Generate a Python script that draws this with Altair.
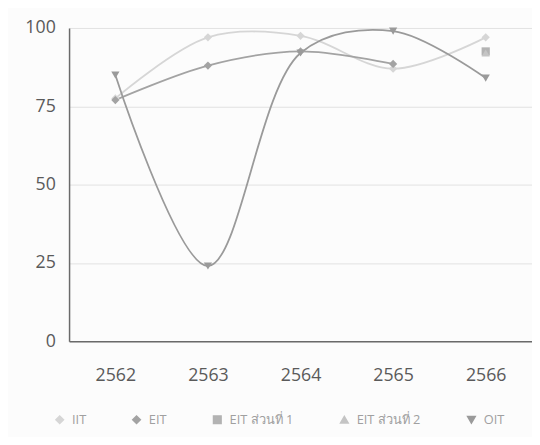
import altair as alt
import pandas as pd

years = ["2562", "2563", "2564", "2565", "2566"]
series_names = ["IIT", "EIT", "EIT ส่วนที่ 1", "EIT ส่วนที่ 2", "OIT"]
iit = [77.5, 97, 97.5, 87, 97]
eit = [77, 88, 92.5, 88.5, None]
eit1 = [None, None, None, None, 92.5]
eit2 = [None, None, None, None, 92]
oit = [85, 24, 92, 99, 84]

colors = ["#d6d6d6", "#a3a3a3", "#b3b3b3", "#c4c4c4", "#9a9a9a"]
shapes = ["diamond", "diamond", "square", "triangle-up", "triangle-down"]

rows = []
for name, vals in zip(series_names, [iit, eit, eit1, eit2, oit]):
    for y, v in zip(years, vals):
        if v is not None:
            rows.append({"series": name, "year": y, "value": v,
                         "order": series_names.index(name)})
df = pd.DataFrame(rows)

font = "Open Sans"

x = alt.X("year:N", title=None, sort=years,
          scale=alt.Scale(paddingInner=0, paddingOuter=0.5),
          axis=alt.Axis(labelAngle=0, labelFontSize=18, labelColor="#5a5a5a",
                        labelFont=font, ticks=False, labelPadding=26,
                        domainColor="#6a6a6a", domainWidth=1.5, grid=False))
y = alt.Y("value:Q", title=None,
          scale=alt.Scale(domain=[0, 100]),
          axis=alt.Axis(values=[0, 25, 50, 75, 100], labelFontSize=18,
                        labelColor="#5a5a5a", labelFont=font, ticks=False,
                        labelPadding=14, domainColor="#6a6a6a", domainWidth=1.5,
                        gridColor="#e2e2e2", gridWidth=1))

color = alt.Color("series:N", sort=series_names, title=None,
                  scale=alt.Scale(domain=series_names, range=colors),
                  legend=alt.Legend(orient="none", direction="horizontal",
                                    legendX=-16, legendY=391, columns=5,
                                    labelFontSize=13, labelColor="#a0a0a0",
                                    labelFont=font, symbolSize=60,
                                    columnPadding=43, labelOffset=6))
shape = alt.Shape("series:N", sort=series_names, title=None,
                  scale=alt.Scale(domain=series_names, range=shapes))

lines = alt.Chart(df).mark_line(interpolate="catmull-rom", strokeWidth=1.8).encode(
    x=x, y=y, color=color, detail="series:N", order="order:Q")
points = alt.Chart(df).mark_point(filled=True, size=70, opacity=1).encode(
    x=x, y=y, color=color, shape=shape)

chart = alt.layer(lines, points).properties(
    width=470, height=318,
    autosize=alt.AutoSizeParams(type="none"),
    padding={"left": 62, "top": 17, "right": 0, "bottom": 94},
    background="#fcfcfc",
).configure_view(stroke=None)

chart.save("out.html", embed_options={"renderer": "svg", "actions": False})
